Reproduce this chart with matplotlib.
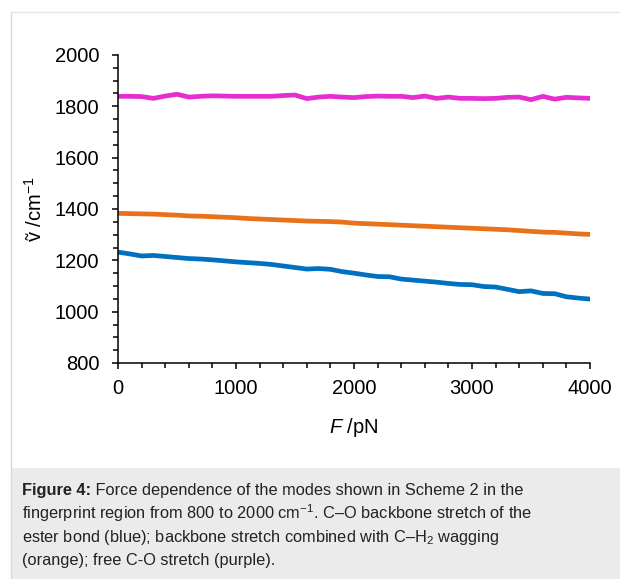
import numpy as np
import matplotlib.pyplot as plt
from matplotlib.lines import Line2D
from matplotlib.patches import Rectangle
from matplotlib.ticker import MultipleLocator

plt.rcParams['font.family'] = ['Liberation Sans', 'DejaVu Sans']
plt.rcParams['mathtext.fontset'] = 'custom'
plt.rcParams['mathtext.rm'] = 'Liberation Sans'
plt.rcParams['mathtext.it'] = 'Liberation Sans:italic'
plt.rcParams['mathtext.bf'] = 'Liberation Sans:bold'

# force in pN, step 100
force = np.arange(0, 4001, 100)

# C-O backbone stretch of the ester bond (blue)
blue = [1232, 1225, 1217, 1219, 1215, 1211, 1207, 1205, 1202, 1198, 1194,
        1191, 1188, 1184, 1178, 1172, 1166, 1168, 1165, 1156, 1150,
        1143, 1137, 1136, 1127, 1123, 1119, 1115, 1110, 1106, 1105,
        1098, 1096, 1087, 1078, 1081, 1071, 1070, 1058, 1053, 1049]

# backbone stretch + C-H2 wagging (orange)
orange = [1383, 1382, 1381, 1380, 1378, 1376, 1373, 1372, 1370, 1368, 1366,
          1363, 1361, 1359, 1357, 1355, 1353, 1352, 1351, 1349, 1345,
          1343, 1341, 1339, 1337, 1335, 1333, 1331, 1329, 1327, 1325,
          1323, 1321, 1319, 1316, 1313, 1310, 1309, 1306, 1303, 1301]

# free C-O stretch (purple)
purple = [1839, 1839, 1838, 1831, 1840, 1847, 1836, 1839, 1841, 1840, 1839,
          1839, 1839, 1839, 1842, 1844, 1830, 1836, 1839, 1836, 1834,
          1838, 1840, 1839, 1839, 1834, 1840, 1831, 1836, 1831, 1831,
          1830, 1831, 1835, 1836, 1826, 1839, 1828, 1835, 1833, 1831]

fig = plt.figure(figsize=(6.2, 5.79), dpi=100)
W, H = 620, 579

# frame lines and caption box
fig.add_artist(Line2D([11 / W, 11 / W], [0, 1 - 12 / H], color='#d9d9d9', lw=1))
fig.add_artist(Line2D([11 / W, 1], [1 - 12 / H, 1 - 12 / H], color='#e6e6e6', lw=1))
fig.add_artist(Rectangle((12 / W, 0), 1 - 12 / W, 111 / H, color='#ebebeb', lw=0))

ax = fig.add_axes([118 / W, 1 - 363 / H, 472 / W, 308 / H])
lw = 3.4
ax.plot(force, blue, color='#0070c0', lw=lw, solid_capstyle='round', solid_joinstyle='round')
ax.plot(force, orange, color='#e8711a', lw=lw, solid_capstyle='round', solid_joinstyle='round')
ax.plot(force, purple, color='#e52dd2', lw=lw, solid_capstyle='round', solid_joinstyle='round')

ax.set_xlim(0, 4000)
ax.set_ylim(800, 2000)
ax.xaxis.set_major_locator(MultipleLocator(1000))
ax.xaxis.set_minor_locator(MultipleLocator(200))
ax.yaxis.set_major_locator(MultipleLocator(200))
ax.yaxis.set_minor_locator(MultipleLocator(50))
ax.spines['top'].set_visible(False)
ax.spines['right'].set_visible(False)
ax.spines['left'].set_linewidth(1.1)
ax.spines['bottom'].set_linewidth(1.1)
ax.tick_params(which='major', direction='out', length=4.5, width=1.1,
               labelsize=14.5)
ax.tick_params(axis='y', which='major', pad=9)
ax.tick_params(axis='x', which='major', pad=7)
ax.tick_params(which='minor', direction='out', length=3.5, width=1.1)

ax.set_xlabel('$\\it{F}$ /pN', fontsize=14.5, labelpad=13)
ax.set_ylabel('ṽ /cm$^{-1}$', fontsize=14.5, labelpad=6)

# caption
fs = 11.8
col = '#222222'
t = fig.text(22 / W, 1 - 495 / H, 'Figure 4:', fontsize=fs, fontweight='bold',
             va='baseline', color=col)
fig.canvas.draw()
bb = t.get_window_extent(renderer=fig.canvas.get_renderer())
fig.text(bb.x1 / W, 1 - 495 / H,
         ' Force dependence of the modes shown in Scheme 2 in the',
         fontsize=fs, va='baseline', color=col)
fig.text(22 / W, 1 - 518.5 / H,
         'fingerprint region from 800 to 2000 cm$^{-1}$. C–O backbone stretch of the',
         fontsize=fs, va='baseline', color=col)
fig.text(22 / W, 1 - 542 / H,
         'ester bond (blue); backbone stretch combined with C–H$_2$ wagging',
         fontsize=fs, va='baseline', color=col)
fig.text(22 / W, 1 - 565.5 / H, '(orange); free C-O stretch (purple).',
         fontsize=fs, va='baseline', color=col)

fig.savefig('out.png', dpi=100)
